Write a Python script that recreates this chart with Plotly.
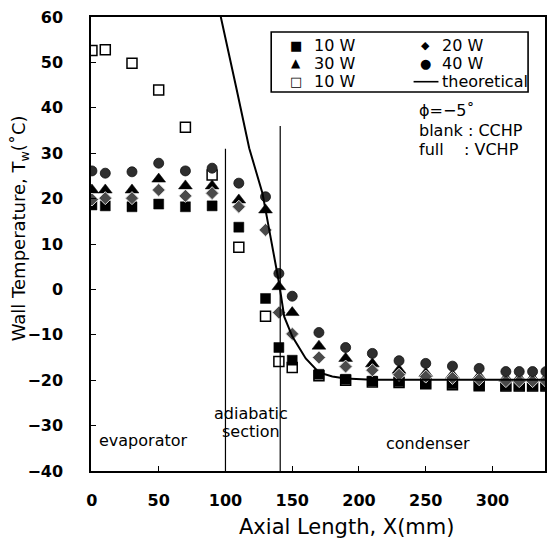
import plotly.graph_objects as go

# ---------------- data ----------------
x_pos = [0, 10, 30, 50, 70, 90, 110, 130, 140, 150, 170, 190, 210, 230, 250, 270, 290, 310, 320, 330, 340]

vchp_10w = [18.6, 18.4, 18.2, 18.8, 18.2, 18.4, 13.7, -2.0, -12.8, -15.6, -18.7, -19.8, -20.2, -20.3, -20.7, -20.8, -21.1, -21.2, -21.2, -21.2, -21.2]
vchp_20w = [19.8, 20.1, 20.1, 21.9, 20.6, 21.2, 18.2, 13.1, -5.1, -9.8, -15.0, -17.0, -17.8, -18.8, -19.2, -19.5, -19.8, -20.2, -20.2, -20.2, -20.2]
vchp_30w = [21.9, 21.9, 21.9, 24.3, 22.8, 22.8, 19.7, 17.5, 0.6, -5.1, -12.5, -15.2, -16.4, -17.8, -18.5, -18.9, -19.2, -19.6, -19.6, -19.6, -19.6]
vchp_40w = [26.1, 25.6, 25.9, 27.8, 26.1, 26.7, 23.4, 20.4, 3.5, -1.5, -9.5, -12.8, -14.1, -15.7, -16.3, -16.9, -17.4, -18.1, -18.1, -18.1, -18.1]
cchp_10w = [52.6, 52.8, 49.8, 43.9, 35.7, 25.2, 9.3, -5.9, -15.9, -17.2, -19.0, -20.0, -20.4, -20.5, -20.8, -21.0, -21.2, -21.3, -21.3, -21.3, -21.3]

theory_x = [94, 95.4, 107.9, 117.8, 127.7, 135.2, 140.2, 144, 150.1, 160.1, 170, 180, 189.9, 209.8, 250, 300, 345]
theory_y = [64.0, 61.5, 44.7, 31.1, 21.2, 8.7, 1.3, -6.0, -10.4, -15.2, -18.3, -19.2, -19.6, -19.9, -19.9, -19.9, -19.9]

section_bounds = [100, 141]
section_line_tops = [31, 36]

x_ticks = [0, 50, 100, 150, 200, 250, 300]
y_ticks = [-40, -30, -20, -10, 0, 10, 20, 30, 40, 50, 60]

# ---------------- figure ----------------
W, H = 551, 543
L, R, T, B = 91, 4, 17, 72
FONT = "DejaVu Sans"

def px(xp):
    return (xp - L) / (W - L - R)

def py(yp):
    return (H - B - yp) / (H - T - B)

fig = go.Figure()

fig.add_trace(go.Scatter(x=x_pos, y=cchp_10w, mode="markers", name="10 W (CCHP)",
                         marker=dict(symbol="square", size=10, color="white",
                                     line=dict(color="black", width=1.5))))
fig.add_trace(go.Scatter(x=x_pos, y=vchp_10w, mode="markers", name="10 W",
                         marker=dict(symbol="square", size=10, color="black",
                                     line=dict(color="black", width=0.5))))
fig.add_trace(go.Scatter(x=x_pos, y=vchp_30w, mode="markers", name="30 W",
                         marker=dict(symbol="triangle-up", size=12, color="black",
                                     line=dict(color="black", width=0.5))))
fig.add_trace(go.Scatter(x=x_pos, y=vchp_20w, mode="markers", name="20 W",
                         marker=dict(symbol="diamond", size=10, color="#4a4a4a",
                                     line=dict(color="#d8d8d8", width=1))))
fig.add_trace(go.Scatter(x=x_pos, y=vchp_40w, mode="markers", name="40 W",
                         marker=dict(symbol="circle", size=10, color="#2e2e2e",
                                     line=dict(color="#111111", width=0.8))))
fig.add_trace(go.Scatter(x=theory_x, y=theory_y, mode="lines", name="theoretical",
                         line=dict(color="black", width=2)))

shapes = []
for xb, yt in zip(section_bounds, section_line_tops):
    shapes.append(dict(type="line", xref="x", yref="y", x0=xb, x1=xb, y0=-40, y1=yt,
                       line=dict(color="black", width=1.2)))

# legend box
shapes.append(dict(type="rect", xref="paper", yref="paper",
                   x0=px(272), x1=px(530), y0=py(92), y1=py(32),
                   line=dict(color="black", width=1.6), fillcolor="white", layer="below"))
shapes.append(dict(type="line", xref="paper", yref="paper",
                   x0=px(415), x1=px(440), y0=py(81.7), y1=py(81.7),
                   line=dict(color="black", width=1.6)))

ann = []
def text(xp, yp, s, size=16, xanchor="left", angle=0):
    ann.append(dict(x=px(xp), y=py(yp), xref="paper", yref="paper", text=s,
                    showarrow=False, xanchor=xanchor, yanchor="middle", textangle=angle,
                    font=dict(family=FONT, size=size, color="black")))

# legend entries
text(296.7, 45, "\u25A0", size=13, xanchor="center")
text(313, 45, "10 W")
text(296.7, 63.3, "\u25B2", size=12, xanchor="center")
text(313, 63.3, "30 W")
text(296.7, 81.7, "\u25A1", size=13, xanchor="center")
text(313, 81.7, "10 W")
text(426.7, 45, "\u25C6", size=11, xanchor="center")
text(441.7, 45, "20 W")
text(426.7, 63.3, "\u25CF", size=13, xanchor="center")
text(441.7, 63.3, "40 W")
text(441.7, 81.7, "theoretical")

text(418, 110, "\u03D5=\u22125\u02DA")
text(418, 130, "blank : CCHP")
text(418, 150, "full    : VCHP")

text(97, 440, "evaporator")
text(252, 413, "adiabatic", xanchor="center")
text(252, 431, "section", xanchor="center")
text(385, 443, "condenser")

# axis titles
text(348, 527, "Axial Length, X(mm)", size=21, xanchor="center")
ann.append(dict(x=px(20), y=py(228), xref="paper", yref="paper",
                text="Wall Temperature, T<sub>w</sub>(\u02DAC)", showarrow=False,
                xanchor="center", yanchor="middle", textangle=-90,
                font=dict(family=FONT, size=18, color="black")))

fig.update_layout(
    width=W, height=H,
    margin=dict(l=L, r=R, t=T, b=B),
    paper_bgcolor="white", plot_bgcolor="white",
    showlegend=False,
    shapes=shapes, annotations=ann,
    font=dict(family=FONT, size=16, color="black"),
)
fig.update_xaxes(range=[-0.7, 339.3], tickvals=x_ticks, ticks="inside", ticklen=5,
                 tickcolor="black", showgrid=False, zeroline=False,
                 showline=True, linecolor="black", linewidth=1.5, mirror=True,
                 tickfont=dict(family=FONT, size=16, color="black", weight="bold"),
                 ticklabelstandoff=14)
fig.update_yaxes(range=[-40, 60], tickvals=y_ticks, ticks="inside", ticklen=5,
                 tickcolor="black", showgrid=False, zeroline=False,
                 showline=True, linecolor="black", linewidth=1.5, mirror=True,
                 tickfont=dict(family=FONT, size=16, color="black", weight="bold"),
                 ticklabelstandoff=23)

fig.write_html("out.html", config={"displayModeBar": False},
               post_script="document.body.style.margin='0';document.body.style.padding='0';")
